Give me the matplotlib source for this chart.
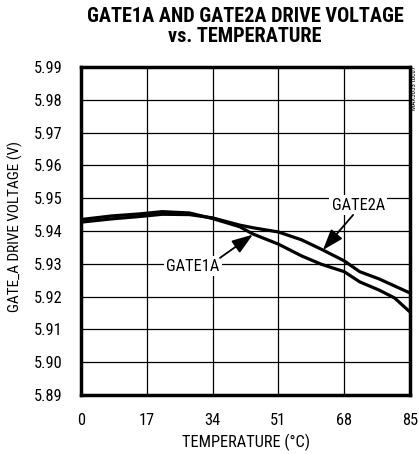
import numpy as np
import matplotlib
matplotlib.use("Agg")
import matplotlib.pyplot as plt
from matplotlib import font_manager

# ── data ──────────────────────────────────────────────────────────────────────
temp_1a = [0, 8, 15, 21, 28, 34, 41, 44.4, 51, 57, 62, 68, 72, 77, 81, 85]
gate1a  = [5.9435, 5.9446, 5.9452, 5.9459, 5.9455, 5.9438, 5.9413, 5.9391,
           5.9360, 5.9324, 5.9299, 5.9276, 5.9245, 5.9220, 5.9196, 5.9153]

temp_2a = [0, 8, 15, 21, 28, 34, 41, 44.4, 51, 57, 62.5, 68, 72, 77, 85]
gate2a  = [5.9427, 5.9437, 5.9444, 5.9451, 5.9450, 5.9440, 5.9418, 5.9410,
           5.9397, 5.9373, 5.9342, 5.9309, 5.9276, 5.9254, 5.9211]

x_ticks = [0, 17, 34, 51, 68, 85]
y_ticks = [5.89, 5.90, 5.91, 5.92, 5.93, 5.94, 5.95, 5.96, 5.97, 5.98, 5.99]

# pick a narrow face if one is around, otherwise plain DejaVu with smaller text
installed = {f.name for f in font_manager.fontManager.ttflist}
narrow = [n for n in ("Liberation Sans Narrow", "DejaVu Sans Condensed",
                      "Roboto Condensed", "Open Sans Condensed",
                      "Noto Sans Condensed") if n in installed]
if narrow:
    FONT = [narrow[0], "DejaVu Sans"]
    FS, TITLE_FS = 11.8, 14.6
else:
    FONT = ["DejaVu Sans"]
    FS, TITLE_FS = 10, 11
plt.rcParams["font.family"] = FONT

fig = plt.figure(figsize=(4.19, 4.54), dpi=100, facecolor="white")
ax = fig.add_axes([81 / 419, 1 - 395 / 454, 329 / 419, 328 / 454])

ax.set_xlim(0, 85)
ax.set_ylim(5.89, 5.99)
ax.set_xticks(x_ticks)
ax.set_yticks(y_ticks)
ax.set_yticklabels([f"{v:.2f}" for v in y_ticks])
ax.tick_params(length=0, labelsize=FS)
ax.tick_params(axis="x", pad=13)
ax.tick_params(axis="y", pad=13)
ax.grid(True, color="black", linewidth=0.9)
ax.set_axisbelow(True)
for sp in ax.spines.values():
    sp.set_linewidth(2.5)

ax.plot(temp_1a, gate1a, color="black", linewidth=2.3, zorder=3)
ax.plot(temp_2a, gate2a, color="black", linewidth=2.3, zorder=3)

# ── labels ────────────────────────────────────────────────────────────────────
ax.set_xlabel("TEMPERATURE (°C)", fontsize=FS, labelpad=4)
fig.text(15 / 419, 1 - 226 / 454, "GATE_A DRIVE VOLTAGE (V)", rotation=90,
         ha="center", va="center", fontsize=FS * 0.93)
fig.text(245 / 419, 1 - 26.5 / 454,
         "GATE1A AND GATE2A DRIVE VOLTAGE\nvs. TEMPERATURE",
         ha="center", va="center", fontsize=TITLE_FS, fontweight="bold",
         linespacing=1.12)
fig.text(414 / 419, 1 - 66 / 454, "MAX5053 toc07", rotation=90,
         ha="center", va="top", fontsize=5)

# ── callouts ──────────────────────────────────────────────────────────────────
box = dict(facecolor="white", edgecolor="none", pad=1.5)
ax.text(71.6, 5.9479, "GATE2A", ha="center", va="center", fontsize=FS,
        bbox=box, zorder=4)
ax.text(28.9, 5.9293, "GATE1A", ha="center", va="center", fontsize=FS,
        bbox=box, zorder=4)
arrow = dict(arrowstyle="-|>,head_length=0.8,head_width=0.28", color="black",
             lw=1.3, mutation_scale=16, shrinkA=0, shrinkB=0)
ax.annotate("", xy=(62.5, 5.9342), xytext=(70.3, 5.9449), arrowprops=arrow,
            zorder=5)
ax.annotate("", xy=(44.4, 5.9389), xytext=(35.9, 5.9318), arrowprops=arrow,
            zorder=5)

fig.savefig("out.png", dpi=100, facecolor="white")
